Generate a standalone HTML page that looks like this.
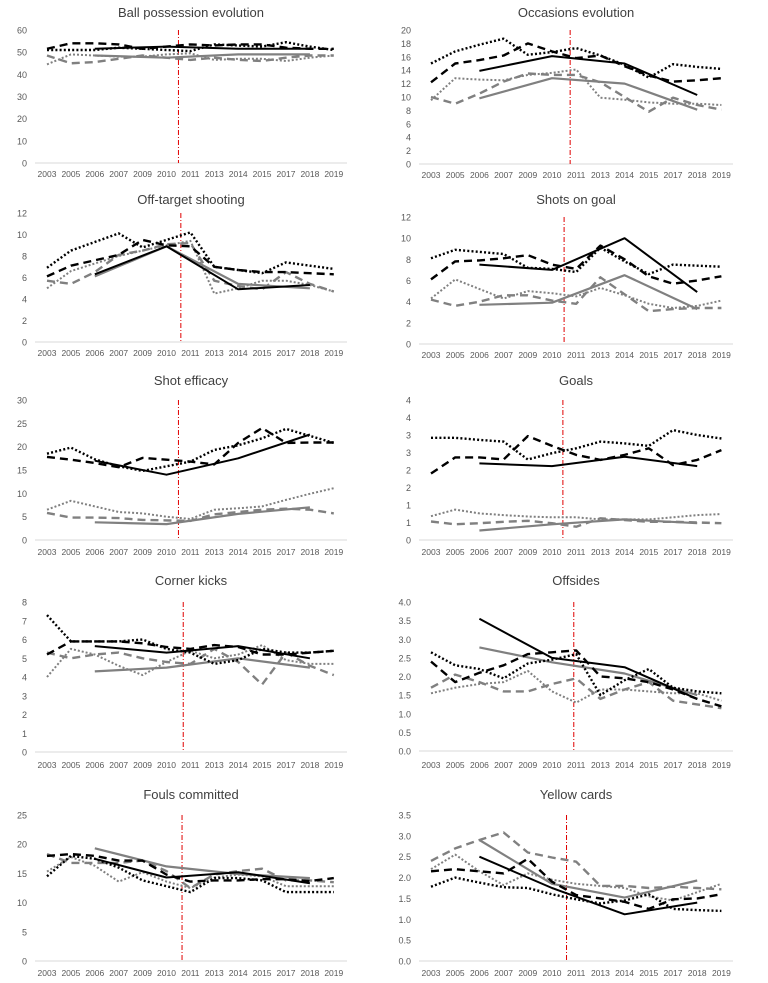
<!DOCTYPE html>
<html><head><meta charset="utf-8">
<style>
html,body{margin:0;padding:0;background:#fff;}
svg{display:block;font-family:"Liberation Sans",sans-serif;}
</style></head>
<body>
<svg id="chart" width="768" height="983" viewBox="0 0 768 983"></svg>
<script>
const categories = ["2003","2005","2006","2007","2009","2010","2011","2013","2014","2015","2017","2018","2019"];
const wcIdx = [2,5,8,11];
const titles = ["Ball possession evolution","Occasions evolution","Off-target shooting","Shots on goal","Shot efficacy","Goals","Corner kicks","Offsides","Fouls committed","Yellow cards"];
const yMax = [60,20,12,12,30,4,8,4,25,3.5];
const yStep = [10,2,2,2,5,0.5,1,0.5,5,0.5];
const yDecimals = [0,0,0,0,0,0,0,1,0,1];

const blackDotted = [
 [51,51,51,52,51.5,51,50.5,53.5,53,52.5,54.5,52.5,51],
 [15,16.8,17.8,18.7,16.3,16.7,17.3,16.2,14.8,12.9,14.9,14.5,14.2],
 [6.9,8.5,9.3,10.1,8.8,9.5,10.2,7,6.7,6.4,7.4,7.1,6.8],
 [8.1,8.9,8.7,8.5,7.2,7.1,6.8,9.1,7.8,6.6,7.5,7.4,7.3],
 [18.5,19.8,17.3,15.8,14.8,15.8,16.8,19.3,20.3,21.8,23.8,22.3,20.8],
 [2.92,2.92,2.86,2.81,2.3,2.48,2.62,2.81,2.76,2.69,3.14,3.0,2.9],
 [7.3,5.9,5.9,5.9,6.0,5.5,5.3,4.7,4.9,5.5,5.3,5.3,5.4],
 [2.65,2.3,2.2,1.95,2.35,2.45,2.6,1.5,1.9,2.2,1.7,1.6,1.55],
 [14.5,18,17.5,16,13.8,12.8,11.8,14.2,14.2,13.8,11.8,11.8,11.8],
 [1.78,2.0,1.88,1.77,1.75,1.6,1.48,1.38,1.45,1.6,1.25,1.22,1.2]
];
const blackDashed = [
 [51.5,54,54,53.5,51.5,52.5,53.5,53,53.5,53.5,52,51.5,51.5],
 [12.2,15,15.5,16.2,18,16.8,15.8,16.2,14.6,13.2,12.3,12.5,12.8],
 [6.1,7.1,7.6,8.1,9.5,9,8.9,7.0,6.7,6.5,6.5,6.4,6.3],
 [6.1,7.8,7.9,8.1,8.4,7.5,7.1,9.3,8.0,6.4,5.7,6.0,6.4],
 [17.8,17.2,16.5,15.6,17.6,17.2,16.8,16.2,20.8,24,20.8,20.9,20.9],
 [1.9,2.36,2.36,2.3,2.97,2.69,2.43,2.29,2.43,2.62,2.14,2.29,2.57],
 [5.2,5.9,5.9,5.9,5.8,5.6,5.5,5.7,5.6,5.2,5.2,5.3,5.4],
 [2.4,1.85,2.1,2.3,2.6,2.65,2.7,2.0,1.95,1.85,1.65,1.4,1.2],
 [18,18.3,18,17.2,17.2,14.8,13.6,13.8,13.8,14,14,13.7,14.2],
 [2.15,2.2,2.15,2.1,2.45,1.9,1.58,1.5,1.42,1.25,1.48,1.5,1.6]
];
const blackSolid = [
 [51.5,52.5,51.5,51.5],[13.9,16.1,15,10.3],[6.3,8.9,4.9,5.3],[7.5,7.0,10.0,4.9],[17,14,17.5,22.6],
 [2.19,2.11,2.38,2.11],[5.65,5.3,5.65,5.0],[3.55,2.5,2.25,1.4],[17.5,14.3,15.2,13.3],[2.5,1.75,1.12,1.4]
];
const graySolid = [
 [48.5,47.5,49,49],[9.8,12.8,12,8.1],[6.1,8.9,5.4,5.0],[3.7,3.9,6.5,3.3],[3.8,3.4,5.6,7.0],
 [0.27,0.45,0.59,0.48],[4.3,4.5,5.0,4.5],[2.78,2.38,2.08,1.5],[19.3,16.2,14.9,14.2],[2.9,1.85,1.52,1.93]
];
const grayDotted = [
 [44.5,49,48.5,48,48,49,49.5,46.5,47,47,46,47.5,48.5],
 [9.5,12.8,12.6,12.5,13.3,13.6,14.1,9.9,9.6,9.2,9,9,8.8],
 [5.0,6.6,7.3,8.0,8.5,9.0,9.4,4.5,5.0,5.7,5.7,5.3,4.7],
 [4.3,6.1,5.2,4.3,5.0,4.8,4.5,5.3,4.6,3.8,3.4,3.6,4.1],
 [6.5,8.4,7.2,6.0,5.7,5.0,4.5,6.5,6.8,7.2,8.6,9.9,11.1],
 [0.68,0.87,0.76,0.71,0.67,0.65,0.65,0.59,0.59,0.59,0.65,0.71,0.74],
 [4.0,5.5,5.2,4.6,4.1,4.8,5.4,5.0,5.2,5.7,4.9,4.7,4.7],
 [1.55,1.7,1.8,1.85,2.15,1.6,1.3,1.65,1.65,1.6,1.55,1.55,1.35],
 [15.3,17.8,16.3,13.6,15.2,13.6,12.5,14.3,14.8,14.5,12.8,12.8,12.8],
 [2.2,2.55,2.15,1.82,2.1,1.95,1.85,1.8,1.75,1.55,1.45,1.65,1.85]
];
const grayDashed = [
 [48.5,45,45.5,47,48.5,47.5,46.5,47.5,46.5,46,47.5,48.5,48.5],
 [10,9,10.5,12.3,13.5,13.3,13.3,12.2,10,7.8,9.9,8.8,8.1],
 [5.7,5.4,6.5,8.1,8.5,9.1,9.2,5.7,5.2,4.9,6.5,5.4,4.7],
 [4.2,3.6,4.0,4.6,4.6,4.1,3.8,6.3,4.7,3.1,3.3,3.4,3.4],
 [5.8,4.8,4.8,4.7,4.3,4.2,4.1,5.5,6.0,6.5,6.7,6.5,5.7],
 [0.53,0.45,0.48,0.52,0.55,0.48,0.38,0.62,0.57,0.52,0.52,0.50,0.48],
 [5.3,5.0,5.2,5.3,5.0,4.8,4.7,5.5,4.8,3.6,5.3,4.6,4.1],
 [1.7,2.05,1.85,1.6,1.6,1.8,1.95,1.4,1.65,1.85,1.35,1.25,1.15],
 [18.3,16.8,16.8,16.8,17.2,15.4,12.5,14.8,15.4,15.8,13.8,13.8,13.5],
 [2.4,2.7,2.9,3.08,2.6,2.48,2.38,1.8,1.8,1.75,1.78,1.75,1.72]
];
const redLinePos = [5.5,5.75,5.6,5.5,5.5,5.45,5.7,5.9,5.65,5.6];

// layout (not data)
const rowsGeo = [
 {top:[30,30],zero:[163,164],lab:[174,175],title:12},
 {top:[213,217],zero:[342,344],lab:[353,355],title:199},
 {top:[400,400],zero:[540,540],lab:[552,552],title:380},
 {top:[602,602],zero:[752,751],lab:[765,765],title:580},
 {top:[815,815],zero:[961,961],lab:[973,973],title:794}
];
const colGeo = [{axL:35,axR:347,c0:47,step:23.9,tickX:27},{axL:419,axR:733,c0:431,step:24.2,tickX:411}];

const NS="http://www.w3.org/2000/svg";
const svg=document.getElementById('chart');
function mk(tag,attrs,parent){const e=document.createElementNS(NS,tag);for(const k in attrs)e.setAttribute(k,attrs[k]);(parent||svg).appendChild(e);return e;}

const styles={
 blackDotted:{stroke:'#000',w:2.4,dash:'2 2.2'},
 blackDashed:{stroke:'#000',w:2.4,dash:'8 5'},
 blackSolid:{stroke:'#000',w:2,dash:''},
 graySolid:{stroke:'#808080',w:2.2,dash:''},
 grayDotted:{stroke:'#808080',w:2,dash:'2 2'},
 grayDashed:{stroke:'#808080',w:2.4,dash:'8 5'}
};

for(let p=0;p<10;p++){
  const r=rowsGeo[Math.floor(p/2)], c=p%2, cg=colGeo[c];
  const top=r.top[c], zero=r.zero[c];
  const g=mk('g',{});
  
  
  const xS=i=>cg.c0+i*cg.step;
  const yS=v=>zero-(v/yMax[p])*(zero-top);
  const t=mk('text',{x:(cg.axL+cg.axR)/2,y:r.title+5,'text-anchor':'middle','font-size':'13','fill':'#404040'},g);
  t.textContent=titles[p];
  
  
  const ax=mk('line',{x1:cg.axL,x2:cg.axR,y1:zero,y2:zero,stroke:'#d9d9d9','stroke-width':1},g);
  
  
  const n=Math.round(yMax[p]/yStep[p]);
  for(let k=0;k<=n;k++){
    const v=k*yStep[p];
    const lt=mk('text',{x:cg.tickX,y:yS(v)+3.5,'text-anchor':'end','font-size':'9','fill':'#595959'},g);
    lt.textContent=yDecimals[p]?v.toFixed(yDecimals[p]):String(Math.round(v+1e-9));
    
    
  }
  categories.forEach((cat,i)=>{
    const xt=mk('text',{x:xS(i),y:r.lab[c]+3,'text-anchor':'middle','font-size':'8.5','fill':'#595959'},g);
    xt.textContent=cat;
    
    
  });
  const rx=xS(redLinePos[p]);
  const rl=mk('line',{x1:rx,x2:rx,y1:top,y2:zero,stroke:'#e00000','stroke-width':1,'stroke-dasharray':'5 2 1 2'},g);
  
  
  const series=[['grayDashed',grayDashed[p],null],['grayDotted',grayDotted[p],null],['graySolid',graySolid[p],wcIdx],
                ['blackDashed',blackDashed[p],null],['blackDotted',blackDotted[p],null],['blackSolid',blackSolid[p],wcIdx]];
  series.forEach(([name,vals,idx])=>{
    const st=styles[name];
    const pts=vals.map((v,j)=>{const i=idx?idx[j]:j;return xS(i).toFixed(1)+','+yS(v).toFixed(1);}).join(' ');
    const pl=mk('polyline',{points:pts,fill:'none',stroke:st.stroke,'stroke-width':st.w,'stroke-dasharray':st.dash,'stroke-linejoin':'round'},g);
    
    
  });
}
</script>
</body></html>
